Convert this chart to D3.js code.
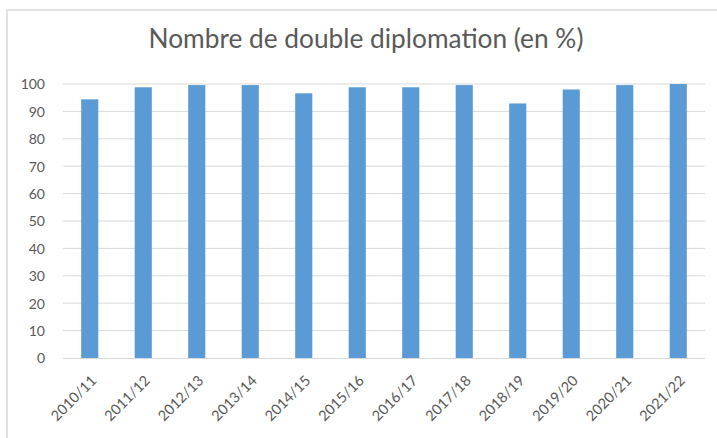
<!DOCTYPE html>
<html>
<head>
<meta charset="utf-8">
<script src="https://cdn.jsdelivr.net/npm/d3@7"></script>
<style>
  html, body { margin: 0; padding: 0; background: #fff; }
  svg { display: block; }
</style>
</head>
<body>
<svg id="chart" width="717" height="438"></svg>
<script>
const categories = ["2010/11","2011/12","2012/13","2013/14","2014/15","2015/16","2016/17","2017/18","2018/19","2019/20","2020/21","2021/22"];
const values = [94.4, 98.8, 99.6, 99.6, 96.6, 98.8, 98.8, 99.6, 92.9, 98.0, 99.6, 100];
const yTicks = [0, 10, 20, 30, 40, 50, 60, 70, 80, 90, 100];
const chartTitle = "Nombre de double diplomation (en %)";

(function () {
const svg = d3.select("#chart");
const W = 717, H = 438;
const pL = 63, pR = 705, pT = 84, pB = 358;
const fontFam = "Lato, 'Open Sans', sans-serif";
const textColor = "#595959";

// chart frame border
svg.append("rect")
  .attr("x", 7).attr("y", 10)
  .attr("width", W + 20).attr("height", H + 20)
  .attr("fill", "#fff").attr("stroke", "#d9d9d9").attr("stroke-width", 1.5);

const x = d3.scaleBand().domain(categories).range([pL, pR]).paddingInner(0.68).paddingOuter(0.34);
const y = d3.scaleLinear().domain([0, 100]).range([pB, pT]);

// gridlines
svg.append("g")
  .selectAll("line").data(yTicks.filter(d => d > 0)).join("line")
  .attr("x1", pL).attr("x2", pR)
  .attr("y1", d => y(d)).attr("y2", d => y(d))
  .attr("stroke", "#d9d9d9").attr("stroke-width", 1);

// y axis labels
const yAxis = d3.axisLeft(y).tickValues(yTicks).tickSize(0).tickPadding(0);
const yg = svg.append("g").attr("transform", `translate(45,0)`).call(yAxis);
yg.select(".domain").remove();
yg.selectAll("text")
  .attr("font-family", fontFam).attr("font-size", 14)
  .attr("fill", textColor).attr("dy", "0.35em");

// bars
svg.append("g")
  .selectAll("rect").data(values).join("rect")
  .attr("x", (d, i) => x(categories[i]))
  .attr("width", x.bandwidth())
  .attr("y", d => y(d))
  .attr("height", d => y(0) - y(d))
  .attr("fill", "#5b9bd5");

// x axis
const xAxis = d3.axisBottom(x).tickSize(0).tickPadding(0);
const xg = svg.append("g").attr("transform", `translate(0,${pB})`).call(xAxis);
xg.select(".domain").attr("stroke", "#d9d9d9").attr("stroke-width", 1.2)
  .attr("d", `M${pL},0.5H${pR}`);
xg.selectAll(".tick text")
  .attr("font-family", fontFam).attr("font-size", 14.5)
  .attr("fill", textColor)
  .attr("text-anchor", "end")
  .attr("dy", "0.35em")
  .attr("transform", "translate(4,20) rotate(-45)");

// title
const t = svg.append("text")
  .attr("x", 366).attr("y", 48)
  .attr("text-anchor", "middle")
  .attr("font-family", fontFam).attr("font-size", 23)
  .attr("fill", textColor)
  .text(chartTitle);
const len = t.node().getComputedTextLength();
t.attr("font-size", 23 * 435 / len);
})();
</script>
</body>
</html>
